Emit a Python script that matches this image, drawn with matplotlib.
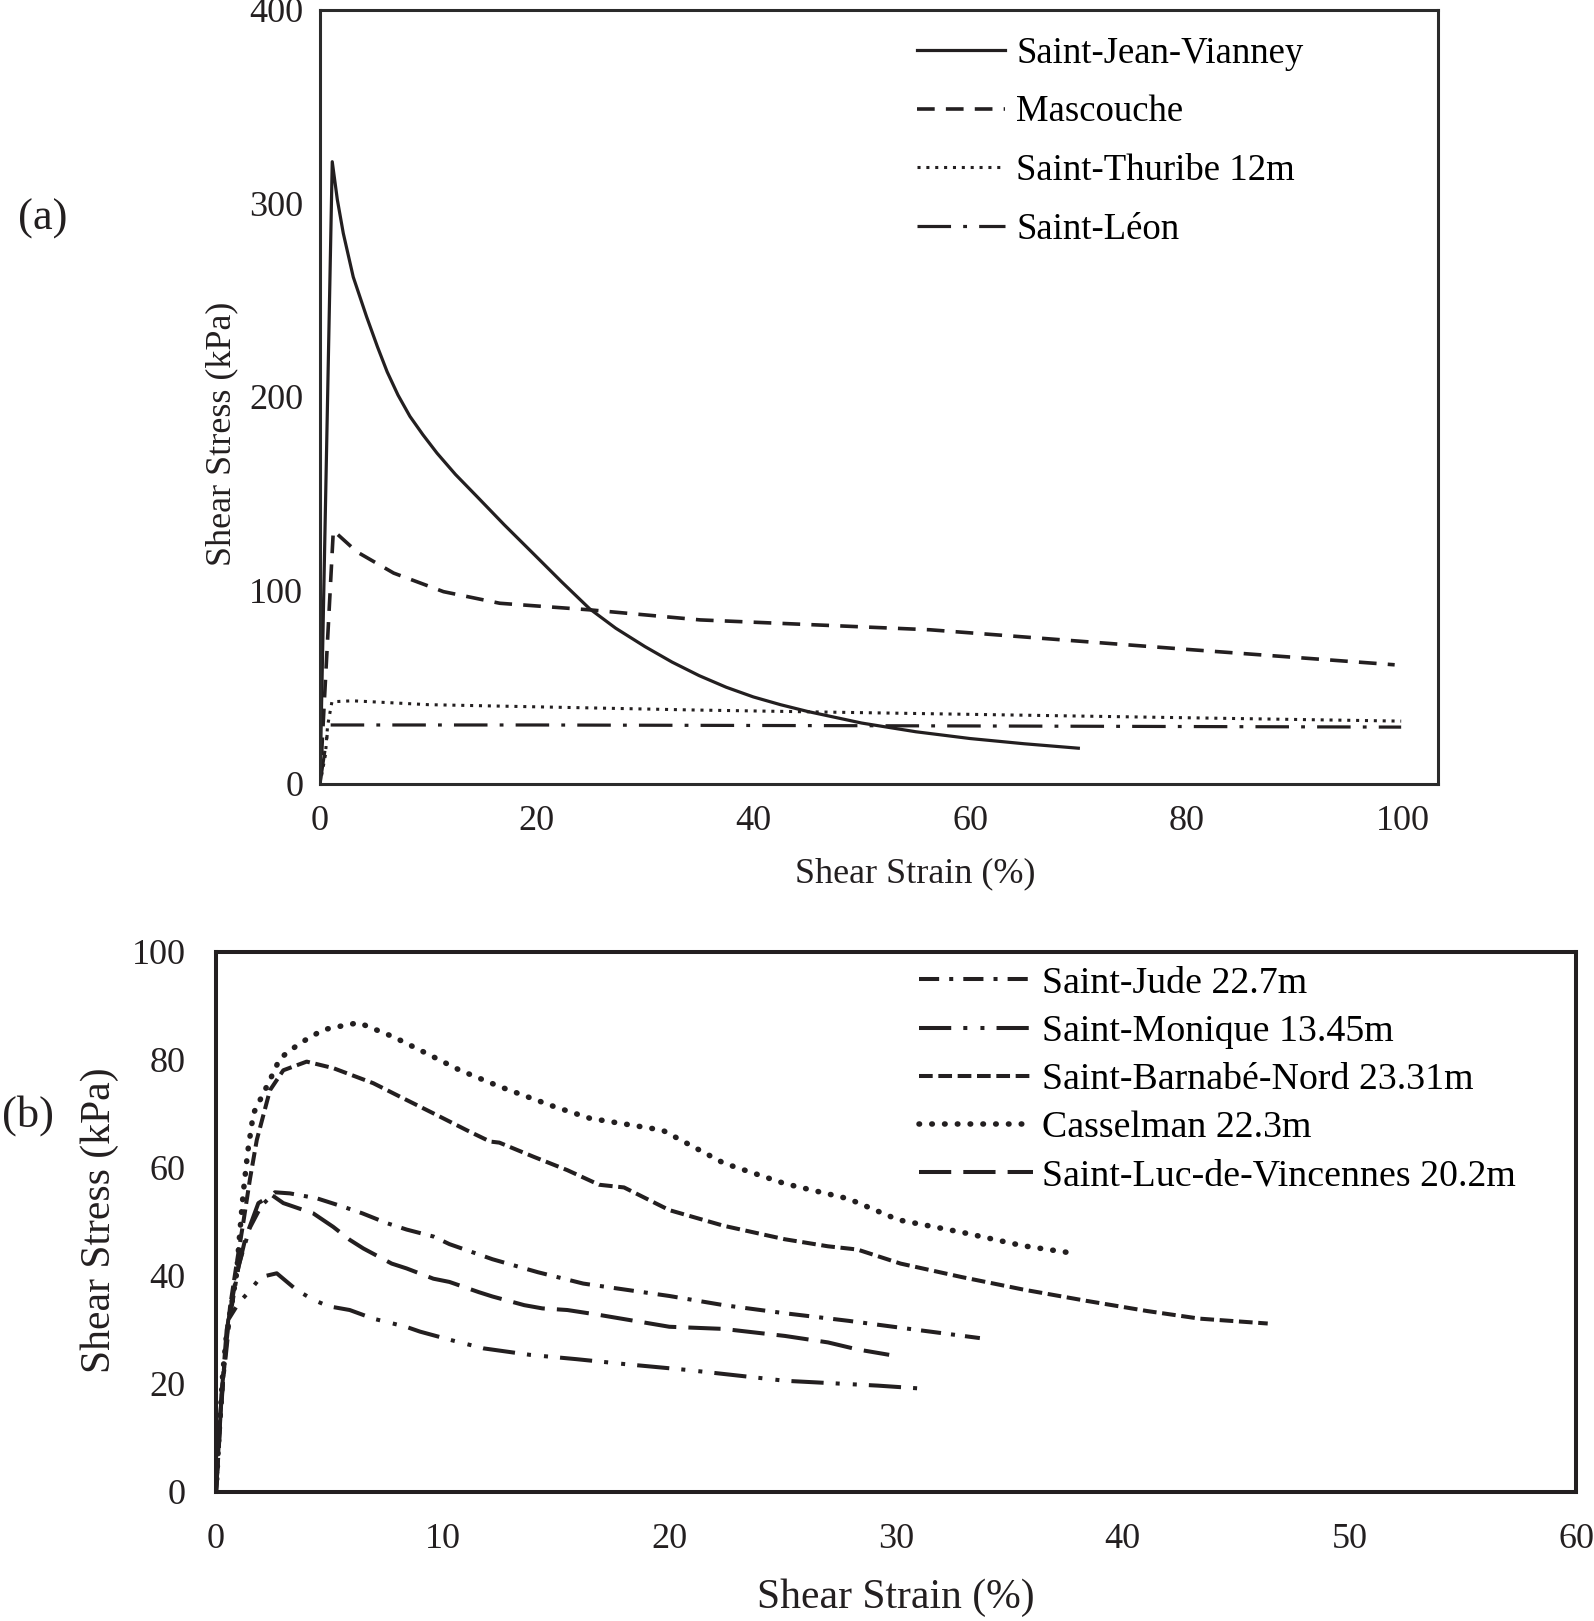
import matplotlib
matplotlib.use("Agg")
import matplotlib.pyplot as plt

plt.rcParams['font.family'] = ['Liberation Serif', 'DejaVu Serif']

INK = '#231f20'

# ---------------- Panel (a) data ----------------
sjv_x = [0, 1.13, 1.6, 2.15, 3.07, 4.3, 5.3, 6.2, 7.2, 8.3, 9.5, 10.8, 12.5, 14.5, 17, 19.7,
         22.3, 24.9, 27.3, 30, 32.5, 35, 37.5, 40, 42.5, 45, 50, 55, 60, 65, 70]
sjv_y = [0, 321.6, 302, 284.6, 262, 241.5, 226, 213, 201, 190, 180.5, 171, 160, 148.5, 134, 119,
         104.5, 90.5, 80.5, 71, 63, 56, 50, 45, 41, 37.5, 31.5, 27, 23.5, 20.8, 18.5]

masc_x = [0, 1.23, 3.4, 6.8, 11.4, 16.6, 24.9, 35.1, 56.3, 80.2, 99.2]
masc_y = [0, 131, 120, 109, 99.4, 93.4, 90, 84.8, 79.7, 69.5, 61.6]

thur_x = [0, 0.5, 0.7, 1.1, 3, 10, 35, 60, 99.8]
thur_y = [0, 15, 30, 42.5, 43, 41, 38.2, 36, 32.5]

leon_x = [0, 0.8, 20, 60, 99.8]
leon_y = [0, 30.5, 30.5, 30, 29.4]

labels_a = ['Saint-Jean-Vianney', 'Mascouche', 'Saint-Thuribe 12m', 'Saint-Léon']
xticks_a = [0, 20, 40, 60, 80, 100]
yticks_a = [0, 100, 200, 300, 400]

# ---------------- Panel (b) data ----------------
jude_x = [0, 0.3, 0.6, 1.0, 1.5, 2.0, 2.6, 3.26, 4.44, 5.63, 6.46, 7.53, 8.41, 9.6, 10.3, 12.2, 14.2, 16.2, 20, 22.4, 25.1, 27.9, 30.6, 33.7]
jude_y = [0, 20, 32, 42, 49, 53, 55.5, 55.3, 54.4, 52.8, 51.6, 49.8, 48.6, 47.3, 45.9, 43.1, 40.7, 38.6, 36.3, 34.6, 33.1, 31.7, 30.2, 28.5]

moni_x = [0, 0.25, 0.54, 1.0, 1.5, 1.97, 2.68, 3.56, 4.29, 4.96, 5.9, 6.94, 8.38, 9.0, 10.4, 11.8, 13.85, 15.9, 18.0, 20.8, 25.1, 29.2, 31.3]
moni_y = [0, 18, 31.9, 35, 37.3, 39.8, 40.5, 37.4, 35.6, 34.4, 33.7, 32.1, 30.6, 29.7, 28.1, 26.6, 25.4, 24.6, 23.7, 22.6, 20.6, 19.7, 19.1]

barn_x = [0, 0.2, 0.4, 0.62, 0.9, 1.2, 1.5, 1.8, 2.38, 2.97, 4.0, 5.17, 6.94, 8.12, 9.6, 11.06, 12.09, 12.5, 14.0, 15.5, 16.9, 18, 20, 22.4, 25.1, 27, 28.3, 30.2, 32.9, 35.6, 38.4, 41.1, 43.4, 46.4]
barn_y = [0, 15, 25, 34.3, 42, 49.8, 58, 65.2, 74.4, 78.1, 79.7, 78.5, 75.7, 73.2, 70.1, 67, 64.9, 64.7, 62.1, 59.6, 56.9, 56.4, 52.2, 49.3, 46.8, 45.5, 44.9, 42.3, 39.8, 37.5, 35.4, 33.5, 32.1, 31.2]

cass_x = [0, 0.15, 0.3, 0.47, 0.7, 0.91, 1.05, 1.2, 1.4, 1.65, 2.38, 2.82, 3.7, 4.73, 5.77, 6.3, 7.82, 9.3, 10.76, 12.5, 14.9, 16.5, 19.7, 22.4, 25.1, 27.9, 30.1, 32.9, 35.6, 38.0]
cass_y = [0, 12, 22, 29.4, 35, 40.5, 48, 55.3, 63, 70.1, 76.3, 80.3, 83.1, 85.6, 86.5, 86.9, 84.3, 81.2, 78.1, 75.1, 71.4, 69.2, 67, 60.9, 57.1, 54.3, 50.4, 48.1, 45.6, 44.1]

luc_x = [0, 0.25, 0.47, 0.9, 1.3, 1.65, 1.87, 2.46, 2.97, 4.29, 5.17, 5.9, 6.5, 7.75, 8.41, 9.59, 10.3, 11.6, 12.2, 13.6, 14.4, 15.5, 16.9, 20, 22.4, 25.1, 27, 28.3, 29.7]
luc_y = [0, 18, 30, 40, 47, 51, 53.5, 55, 53.5, 51.6, 49.1, 46.7, 45.1, 42.3, 41.4, 39.5, 38.9, 37.0, 36.2, 34.6, 34.0, 33.7, 32.8, 30.6, 30.2, 28.9, 27.7, 26.4, 25.4]

labels_b = ['Saint-Jude 22.7m', 'Saint-Monique 13.45m', 'Saint-Barnabé-Nord 23.31m',
            'Casselman 22.3m', 'Saint-Luc-de-Vincennes 20.2m']
xticks_b = [0, 10, 20, 30, 40, 50, 60]
yticks_b = [0, 20, 40, 60, 80, 100]

W, H = 1594, 1621
fig = plt.figure(figsize=(W / 100, H / 100), dpi=100)


def frac_axes(l, t, r, b):
    return [l / W, 1 - b / H, (r - l) / W, (b - t) / H]


# ---------------- Panel (a) ----------------
ax1 = fig.add_axes(frac_axes(320, 10, 1438, 784))
lw_a = 2.3
ax1.plot(sjv_x, sjv_y, color=INK, lw=lw_a, linestyle='-', label=labels_a[0])
ax1.plot(masc_x, masc_y, color=INK, lw=2.6, linestyle=(0, (4.9, 3.1)), label=labels_a[1])
ax1.plot(thur_x, thur_y, color=INK, lw=2.2, linestyle=(0, (1, 1.9)), label=labels_a[2])
ax1.plot(leon_x, leon_y, color=INK, lw=lw_a, linestyle=(0, (10.5, 3.8, 1.2, 3.8)), label=labels_a[3])

ax1.set_xlim(0, 103.2)
ax1.set_ylim(0, 400)
ax1.set_xticks(xticks_a)
ax1.set_yticks(yticks_a)
ax1.tick_params(axis='both', length=0, labelsize=26, colors=INK)
ax1.tick_params(axis='x', pad=15)
ax1.tick_params(axis='y', pad=12)
for s in ax1.spines.values():
    s.set_linewidth(2.2)
    s.set_color('#2b2b2b')
ax1.set_xlabel('Shear Strain (%)', fontsize=26, color=INK, va='center')
ax1.xaxis.set_label_coords(0.532, -0.1164)
ax1.set_ylabel('Shear Stress (kPa)', fontsize=26, color=INK, va='center')
ax1.yaxis.set_label_coords(-0.0878, 0.452)
ax1.legend(loc='upper left', bbox_to_anchor=(0.534, 0.966), frameon=False,
           fontsize=26.5, handlelength=2.4, handletextpad=0.3, labelspacing=0.655,
           borderpad=0, borderaxespad=0)

# ---------------- Panel (b) ----------------
ax2 = fig.add_axes(frac_axes(216, 952, 1576, 1492))
lw_b = 2.9
ax2.plot(jude_x, jude_y, color=INK, lw=lw_b, linestyle=(0, (5, 2.5, 1, 2.5)), label=labels_b[0])
ax2.plot(moni_x, moni_y, color=INK, lw=lw_b, linestyle=(0, (8, 3, 1, 3.25, 1, 3)), label=labels_b[1])
ax2.plot(barn_x, barn_y, color=INK, lw=lw_b, linestyle=(0, (3.4, 1.4)), label=labels_b[2])
ax2.plot(cass_x, cass_y, color=INK, lw=4.0, linestyle=(0, (0.1, 2.2)),
         dash_capstyle='round', label=labels_b[3])
ax2.plot(luc_x, luc_y, color=INK, lw=lw_b, linestyle=(0, (8, 3)), label=labels_b[4])

ax2.set_xlim(0, 60)
ax2.set_ylim(0, 100)
ax2.set_xticks(xticks_b)
ax2.set_yticks(yticks_b)
ax2.tick_params(axis='both', length=0, labelsize=26, colors=INK)
ax2.tick_params(axis='x', pad=22)
ax2.tick_params(axis='y', pad=22)
for s in ax2.spines.values():
    s.set_linewidth(2.9)
    s.set_color(INK)
ax2.set_xlabel('Shear Strain (%)', fontsize=30, color=INK, va='center')
ax2.xaxis.set_label_coords(0.5, -0.1964)
ax2.set_ylabel('Shear Stress (kPa)', fontsize=30, color=INK, va='center')
ax2.yaxis.set_label_coords(-0.0852, 0.504)
ax2.legend(loc='upper left', bbox_to_anchor=(0.517, 0.974), frameon=False,
           fontsize=27.3, handlelength=3.0, handletextpad=0.24, labelspacing=0.36,
           borderpad=0, borderaxespad=0)

fig.text(43 / W, 1 - 219 / H, '(a)', fontsize=32, ha='center', va='center', color=INK)
fig.text(28 / W, 1 - 1116 / H, '(b)', fontsize=32, ha='center', va='center', color=INK)

fig.savefig('out.png', dpi=100)
